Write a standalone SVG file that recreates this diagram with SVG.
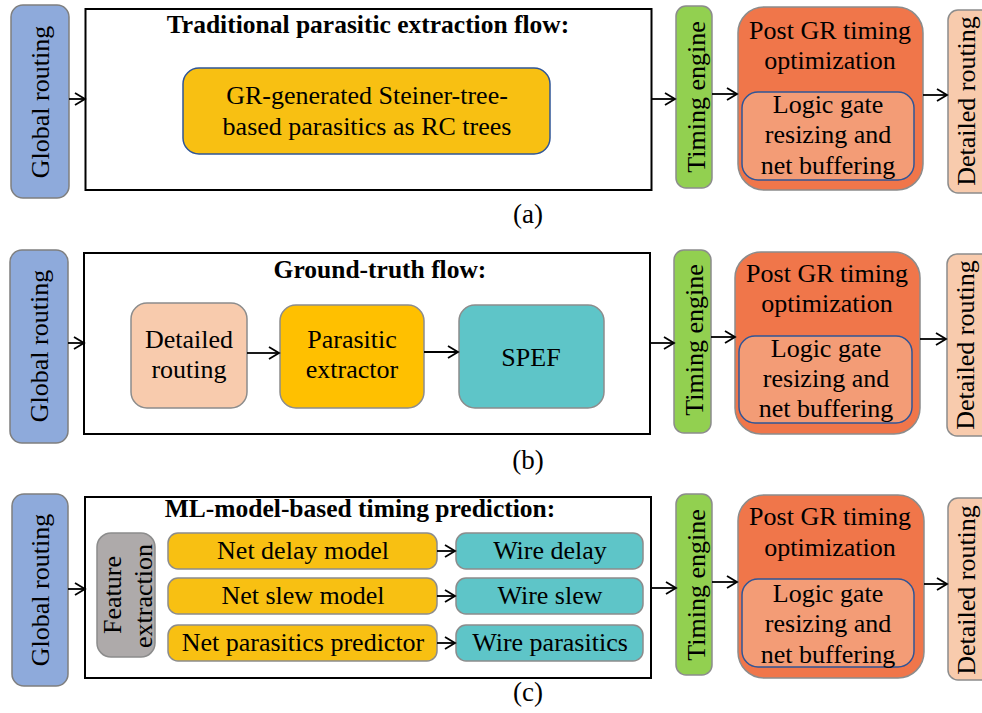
<svg xmlns="http://www.w3.org/2000/svg" width="982" height="713" viewBox="0 0 982 713" font-family="'Liberation Serif', 'DejaVu Serif', serif">
  <defs>
    <marker id="arrow" markerUnits="userSpaceOnUse" markerWidth="14" markerHeight="14" refX="11" refY="7" orient="auto">
      <path d="M1,1 L11,7 L1,13" fill="none" stroke="#000" stroke-width="1.8"/>
    </marker>
  </defs>
  <style>
    text { font-family: "Liberation Serif", "DejaVu Serif", serif; fill: #000; }
    .t { font-size: 26px; font-weight: normal; text-anchor: middle; }
    .title { font-size: 25.5px; font-weight: bold; text-anchor: middle; }
    .cap { font-size: 27px; text-anchor: middle; }
    .frame { fill: #fff; stroke: #000; stroke-width: 2; }
    .gr { fill: #8eaadb; stroke: #7f7f7f; stroke-width: 1.5; }
    .te { fill: #92d050; stroke: #8c8c8c; stroke-width: 1.5; }
    .post { fill: #f0764a; stroke: #8c8c8c; stroke-width: 1.5; }
    .inner { fill: #f39c76; stroke: #2f5597; stroke-width: 1.5; }
    .dr { fill: #f8cbad; stroke: #8c8c8c; stroke-width: 1.5; }
    .amber { fill: #f8c012; stroke: #8c8c8c; stroke-width: 1.5; }
    .amberb { fill: #f8c012; stroke: #2f5597; stroke-width: 1.5; }
    .pe { fill: #ffc000; stroke: #8c8c8c; stroke-width: 1.5; }
    .teal { fill: #5ec5c8; stroke: #8c8c8c; stroke-width: 1.5; }
    .fe { fill: #aeaaaa; stroke: #8c8c8c; stroke-width: 1.5; }
    .conn line { stroke: #000; stroke-width: 1.8; marker-end: url(#arrow); }
  </style>
  <rect width="982" height="713" fill="#fff"/>

  <!-- ===== (a) Traditional flow ===== -->
  <g id="a-global-routing">
    <rect class="gr" x="11" y="5" width="58" height="193" rx="12"/>
    <text class="t" transform="translate(49,102) rotate(-90)">Global routing</text>
  </g>
  <g id="a-frame">
    <rect class="frame" x="85.5" y="9" width="566" height="181"/>
    <text class="title" x="368" y="33">Traditional parasitic extraction flow:</text>
  </g>
  <g id="a-steiner">
    <rect class="amberb" x="183" y="68" width="367" height="86" rx="16"/>
    <text class="t" x="367" y="104">GR-generated Steiner-tree-</text>
    <text class="t" x="367" y="135">based parasitics as RC trees</text>
  </g>
  <g id="a-timing-engine">
    <rect class="te" x="676" y="6" width="36" height="182" rx="10"/>
    <text class="t" transform="translate(705,97) rotate(-90)">Timing engine</text>
  </g>
  <g id="a-post-gr">
    <rect class="post" x="738" y="7" width="185" height="183" rx="26"/>
    <text class="t" x="830" y="39">Post GR timing</text>
    <text class="t" x="830" y="69">optimization</text>
    <rect class="inner" x="742" y="92" width="172" height="88" rx="16"/>
    <text class="t" x="828" y="113">Logic gate</text>
    <text class="t" x="828" y="143">resizing and</text>
    <text class="t" x="828" y="174">net buffering</text>
  </g>
  <g id="a-detailed-routing">
    <rect class="dr" x="948" y="10" width="60" height="183" rx="10"/>
    <text class="t" transform="translate(975,101) rotate(-90)">Detailed routing</text>
  </g>
  <text class="cap" x="528" y="223">(a)</text>

  <!-- ===== (b) Ground-truth flow ===== -->
  <g id="b-global-routing">
    <rect class="gr" x="10" y="250" width="58" height="193" rx="12"/>
    <text class="t" transform="translate(48,346) rotate(-90)">Global routing</text>
  </g>
  <g id="b-frame">
    <rect class="frame" x="84" y="253" width="566" height="181"/>
    <text class="title" x="380" y="278">Ground-truth flow:</text>
  </g>
  <g id="b-detailed-routing-inner">
    <rect class="dr" x="131" y="303" width="116" height="105" rx="16"/>
    <text class="t" x="189" y="348">Detailed</text>
    <text class="t" x="189" y="378">routing</text>
  </g>
  <g id="b-parasitic-extractor">
    <rect class="pe" x="280" y="305" width="144" height="103" rx="16"/>
    <text class="t" x="352" y="348">Parasitic</text>
    <text class="t" x="352" y="378">extractor</text>
  </g>
  <g id="b-spef">
    <rect class="teal" x="459" y="305" width="145" height="103" rx="16"/>
    <text class="t" x="531" y="366">SPEF</text>
  </g>
  <g id="b-timing-engine">
    <rect class="te" x="674" y="250" width="37" height="183" rx="10"/>
    <text class="t" transform="translate(703,340) rotate(-90)">Timing engine</text>
  </g>
  <g id="b-post-gr">
    <rect class="post" x="735" y="252" width="185" height="182" rx="26"/>
    <text class="t" x="827" y="282">Post GR timing</text>
    <text class="t" x="827" y="312">optimization</text>
    <rect class="inner" x="739" y="336" width="173" height="87" rx="16"/>
    <text class="t" x="826" y="357">Logic gate</text>
    <text class="t" x="826" y="387">resizing and</text>
    <text class="t" x="826" y="417">net buffering</text>
  </g>
  <g id="b-detailed-routing">
    <rect class="dr" x="947" y="254" width="60" height="182" rx="10"/>
    <text class="t" transform="translate(974,345) rotate(-90)">Detailed routing</text>
  </g>
  <text class="cap" x="528" y="469">(b)</text>

  <!-- ===== (c) ML-model-based flow ===== -->
  <g id="c-global-routing">
    <rect class="gr" x="12" y="494" width="56" height="192" rx="12"/>
    <text class="t" transform="translate(49,590) rotate(-90)">Global routing</text>
  </g>
  <g id="c-frame">
    <rect class="frame" x="85" y="497" width="566" height="181"/>
    <text class="title" x="360" y="517">ML-model-based timing prediction:</text>
  </g>
  <g id="c-feature-extraction">
    <rect class="fe" x="97" y="533" width="58" height="124" rx="14"/>
    <text class="t" transform="translate(121,595) rotate(-90)">Feature</text>
    <text class="t" transform="translate(152,596) rotate(-90)">extraction</text>
  </g>
  <g id="c-net-delay-model">
    <rect class="amber" x="168" y="533" width="269" height="36" rx="10"/>
    <text class="t" x="303" y="559">Net delay model</text>
  </g>
  <g id="c-net-slew-model">
    <rect class="amber" x="168" y="578" width="269" height="36" rx="10"/>
    <text class="t" x="303" y="604">Net slew model</text>
  </g>
  <g id="c-net-parasitics-predictor">
    <rect class="amber" x="168" y="625" width="269" height="36" rx="10"/>
    <text class="t" x="303" y="651">Net parasitics predictor</text>
  </g>
  <g id="c-wire-delay">
    <rect class="teal" x="456" y="533" width="187" height="36" rx="10"/>
    <text class="t" x="550" y="559">Wire delay</text>
  </g>
  <g id="c-wire-slew">
    <rect class="teal" x="456" y="578" width="187" height="36" rx="10"/>
    <text class="t" x="550" y="604">Wire slew</text>
  </g>
  <g id="c-wire-parasitics">
    <rect class="teal" x="456" y="625" width="187" height="36" rx="10"/>
    <text class="t" x="550" y="651">Wire parasitics</text>
  </g>
  <g id="c-timing-engine">
    <rect class="te" x="676" y="494" width="36" height="181" rx="10"/>
    <text class="t" transform="translate(705,585) rotate(-90)">Timing engine</text>
  </g>
  <g id="c-post-gr">
    <rect class="post" x="738" y="495" width="186" height="183" rx="26"/>
    <text class="t" x="830" y="525">Post GR timing</text>
    <text class="t" x="830" y="556">optimization</text>
    <rect class="inner" x="742" y="579" width="172" height="88" rx="16"/>
    <text class="t" x="828" y="602">Logic gate</text>
    <text class="t" x="828" y="632">resizing and</text>
    <text class="t" x="828" y="663">net buffering</text>
  </g>
  <g id="c-detailed-routing">
    <rect class="dr" x="948" y="498" width="60" height="182" rx="10"/>
    <text class="t" transform="translate(975,590) rotate(-90)">Detailed routing</text>
  </g>
  <text class="cap" x="528" y="701">(c)</text>

  <!-- connectors -->
  <g id="connectors" class="conn">
    <line x1="69" y1="99" x2="85" y2="99"/>
    <line x1="652" y1="99" x2="675" y2="99"/>
    <line x1="712" y1="94" x2="737" y2="94"/>
    <line x1="923" y1="95" x2="947" y2="95"/>

    <line x1="68" y1="343" x2="84" y2="343"/>
    <line x1="247" y1="353" x2="279" y2="353"/>
    <line x1="424" y1="352" x2="458" y2="352"/>
    <line x1="650" y1="343" x2="674" y2="343"/>
    <line x1="711" y1="337" x2="735" y2="337"/>
    <line x1="920" y1="339" x2="946" y2="339"/>

    <line x1="68" y1="589" x2="85" y2="589"/>
    <line x1="437" y1="551" x2="455" y2="551"/>
    <line x1="437" y1="596" x2="455" y2="596"/>
    <line x1="437" y1="643" x2="455" y2="643"/>
    <line x1="651" y1="588" x2="676" y2="588"/>
    <line x1="712" y1="582" x2="737" y2="582"/>
    <line x1="924" y1="584" x2="947" y2="584"/>
  </g>
</svg>
